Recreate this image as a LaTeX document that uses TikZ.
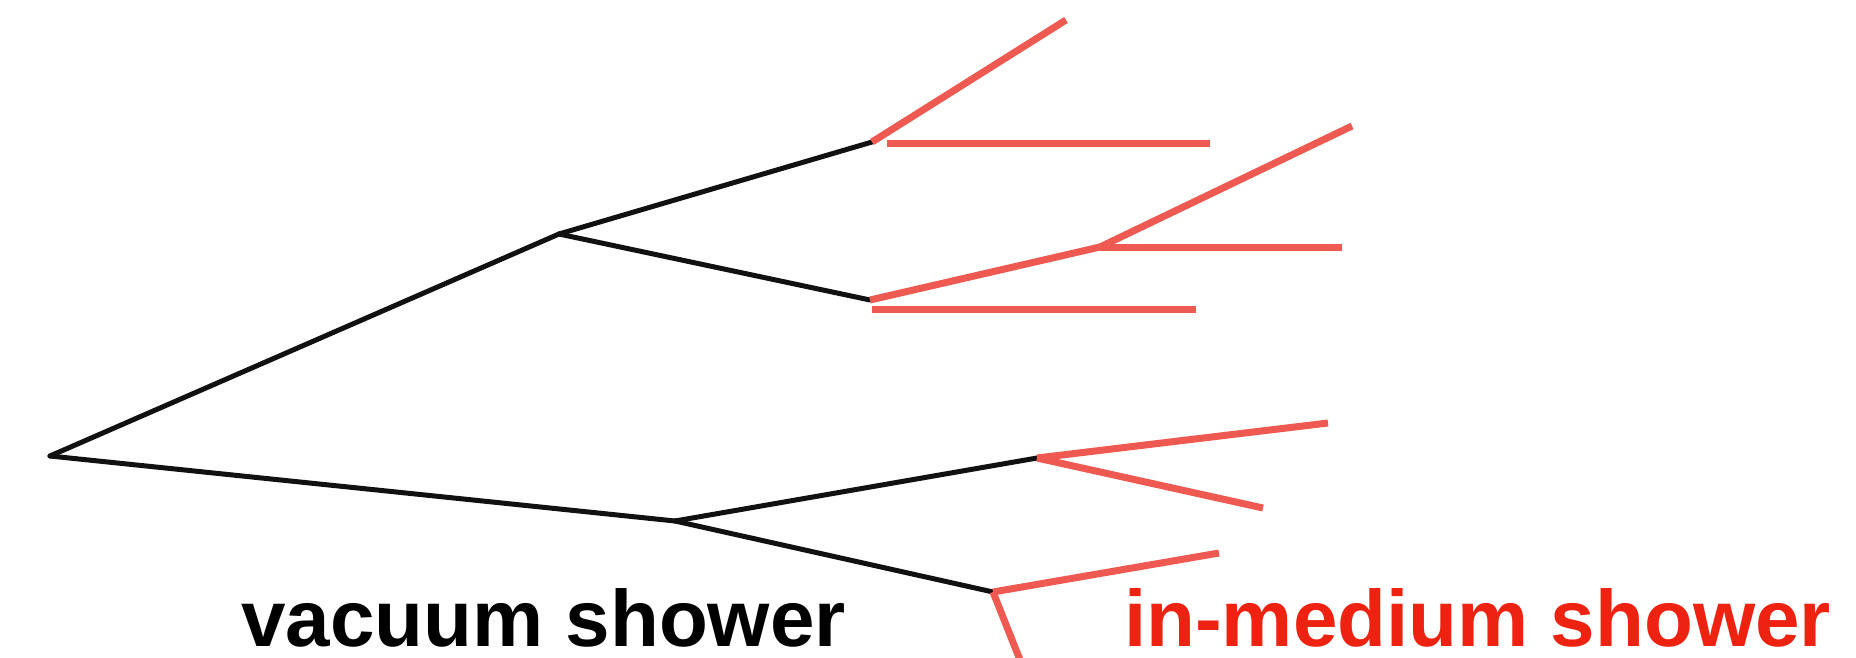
\documentclass[tikz,border=0pt]{standalone}
\usepackage{fontspec}
\setmainfont{Liberation Sans}
\definecolor{vacline}{HTML}{111111}
\definecolor{medline}{HTML}{EE5A52}
\definecolor{medtext}{HTML}{EE2211}
\begin{document}
\begin{tikzpicture}[x=1pt,y=-1pt,
  vac/.style={draw=vacline,line width=5pt,line cap=round,line join=round},
  med/.style={draw=medline,line width=7pt,line cap=butt,line join=round},
  caption/.style={inner sep=0pt,anchor=base west,font=\fontsize{80}{80}\selectfont\bfseries}]
\useasboundingbox (0,0) rectangle (1856,658);

% vacuum splittings
\coordinate (root) at (50,456);
\coordinate (A)  at (559,234);
\coordinate (B)  at (675,521);
\coordinate (A1) at (872,142);
\coordinate (A2) at (870,300);
\coordinate (B1) at (1037,458);
\coordinate (B2) at (993,592);

% in-medium emissions
\coordinate (A1u) at (1066,20);
\coordinate (A1hs) at (887,144);
\coordinate (A1he) at (1210,144);
\coordinate (C)   at (1100,247);
\coordinate (Cu)  at (1352,126);
\coordinate (Che) at (1342,247);
\coordinate (A2hs) at (872,309);
\coordinate (A2he) at (1196,309);
\coordinate (B1u) at (1328,423);
\coordinate (B1d) at (1263,508);
\coordinate (B2u) at (1219,553);
\coordinate (B2d) at (1024,670);

\draw[vac] (root) -- (A);
\draw[vac] (root) -- (B);
\draw[vac] (A) -- (A1);
\draw[vac] (A) -- (A2);
\draw[vac] (B) -- (B1);
\draw[vac] (B) -- (B2);

\draw[med] (A1) -- (A1u);
\draw[med] (A1hs) -- (A1he);
\draw[med] (A2) -- (C);
\draw[med] (C) -- (Cu);
\draw[med] (C) -- (Che);
\draw[med] (A2hs) -- (A2he);
\draw[med] (B1) -- (B1u);
\draw[med] (B1) -- (B1d);
\draw[med] (B2) -- (B2u);
\draw[med] (B2) -- (B2d);

\node[caption,text=black] (vaclabel) at (241,646) {vacuum shower};
\node[caption,text=medtext] (medlabel) at (1124,646) {in-medium shower};
\end{tikzpicture}
\end{document}
